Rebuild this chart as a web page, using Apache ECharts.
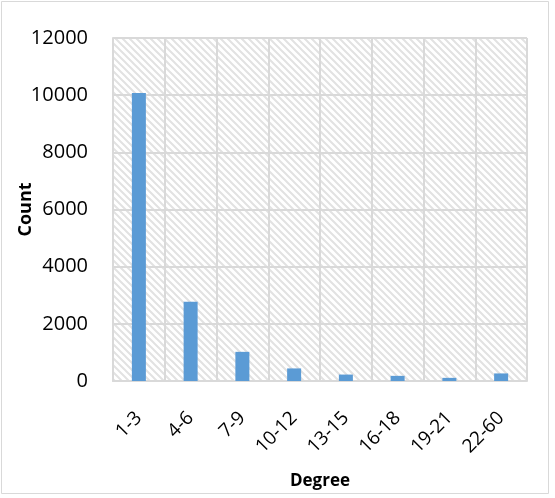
<!DOCTYPE html>
<html>
<head>
<meta charset="utf-8">
<script src="https://cdn.jsdelivr.net/npm/echarts@6/dist/echarts.min.js"></script>
<style>
  html, body { margin: 0; padding: 0; background: #fff; }
  #main { width: 555px; height: 498px; }
</style>
</head>
<body>
<div id="main"></div>
<script>
// data
var degreeBins = ['1-3', '4-6', '7-9', '10-12', '13-15', '16-18', '19-21', '22-60'];
var countValues = [10080, 2770, 1020, 440, 225, 180, 110, 265];
var yTicks = [0, 12000, 2000]; // min, max, step

// light diagonal hatch for the plot area
function hatch() {
    var c = document.createElement('canvas');
    var s = 7;
    c.width = s; c.height = s;
    var ctx = c.getContext('2d');
    ctx.fillStyle = '#ffffff';
    ctx.fillRect(0, 0, s, s);
    ctx.strokeStyle = '#e2e2e2';
    ctx.lineWidth = 2;
    ctx.beginPath();
    ctx.moveTo(-1, -1); ctx.lineTo(s + 1, s + 1);
    ctx.moveTo(-1, s - 1); ctx.lineTo(1, s + 1);
    ctx.moveTo(s - 1, -1); ctx.lineTo(s + 1, 1);
    ctx.stroke();
    return c;
}

var chart = echarts.init(document.getElementById('main'));
var font = 'Open Sans, Noto Sans, sans-serif';

var option = {
    animation: false,
    backgroundColor: '#fff',
    graphic: [{
        type: 'rect',
        shape: { x: 1.5, y: 1.5, width: 547, height: 492 },
        style: { fill: 'none', stroke: '#d9d9d9', lineWidth: 1 },
        z: -1
    }, {
        type: 'line',
        shape: { x1: 527, y1: 38, x2: 527, y2: 381 },
        style: { stroke: '#d9d9d9', lineWidth: 2 }
    }],
    grid: {
        left: 113, right: 28, top: 38, bottom: 117,
        outerBoundsMode: 'none',
        containLabel: false,
        show: true,
        borderWidth: 0,
        backgroundColor: { image: hatch(), repeat: 'repeat' }
    },
    xAxis: {
        type: 'category',
        data: degreeBins,
        name: 'Degree',
        nameLocation: 'middle',
        nameGap: 92,
        nameMoveOverlap: false,
        nameTextStyle: { fontFamily: font, fontSize: 17, fontWeight: 'bold', color: '#000' },
        axisLine: { lineStyle: { color: '#d9d9d9', width: 2 } },
        axisTick: { show: false },
        axisLabel: { rotate: 45, margin: 34, fontFamily: font, fontSize: 19, color: '#000' },
        splitLine: { show: true, lineStyle: { color: '#d9d9d9', width: 2 } }
    },
    yAxis: {
        type: 'value',
        min: yTicks[0],
        max: yTicks[1],
        interval: yTicks[2],
        name: 'Count',
        nameLocation: 'middle',
        nameGap: 78,
        nameMoveOverlap: false,
        nameTextStyle: { fontFamily: font, fontSize: 18, fontWeight: 'bold', color: '#000' },
        axisLine: { show: true, lineStyle: { color: '#d9d9d9', width: 2 } },
        axisTick: { show: false },
        axisLabel: {
            margin: 25, fontFamily: font, fontSize: 20, color: '#000',
            formatter: function (v) { return String(v); }
        },
        splitLine: { show: true, lineStyle: { color: '#d9d9d9', width: 2 } }
    },
    series: [{
        type: 'bar',
        data: countValues,
        barWidth: 14,
        itemStyle: { color: '#5b9bd5' }
    }]
};
chart.setOption(option);
</script>
</body>
</html>
